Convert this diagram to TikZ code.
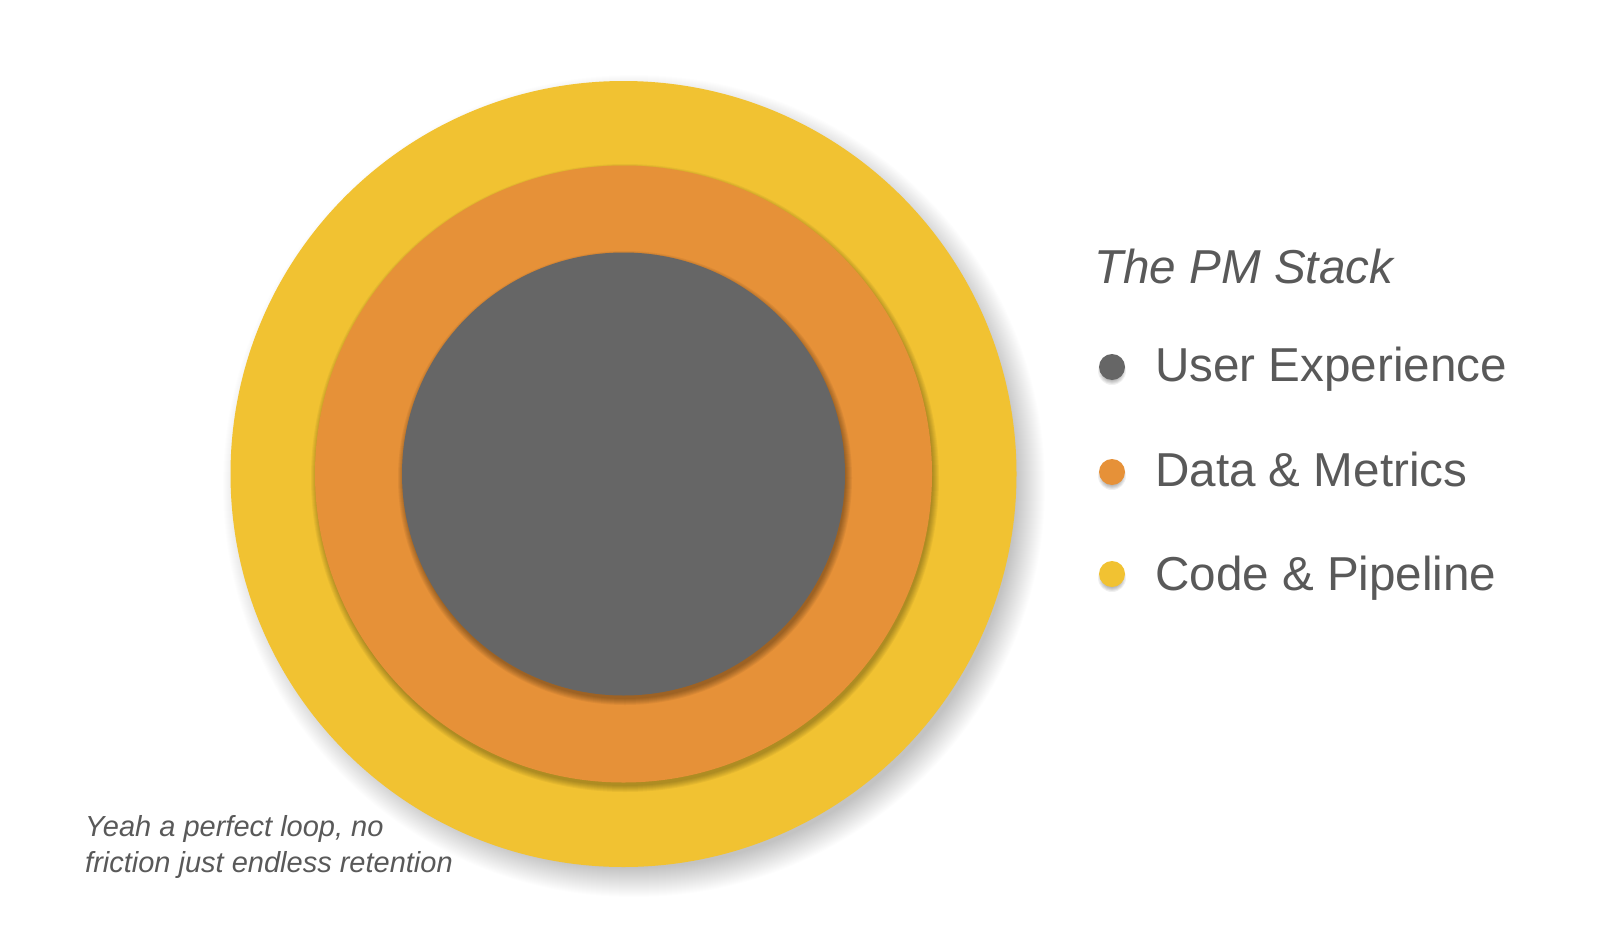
\documentclass[tikz,border=0pt]{standalone}
\usepackage{fontspec}
\setmainfont{Liberation Sans}
\definecolor{cyel}{HTML}{F1C232}
\definecolor{corg}{HTML}{E69138}
\definecolor{cgry}{HTML}{666666}
\definecolor{ctxt}{HTML}{595959}
\begin{document}
\begin{tikzpicture}[x=1pt,y=-1pt,
  disc/.style={circle, inner sep=0pt, outer sep=0pt, minimum size=#1},
  legtext/.style={anchor=base west, inner sep=0pt, text=ctxt, font=\fontsize{47.6}{57}\selectfont},
  dot/.style={circle, inner sep=0pt, outer sep=0pt, minimum size=26pt}]
\fill[white] (0,0) rectangle (1616,926);
\useasboundingbox (0,0) rectangle (1616,926);
% outer shadow
\foreach \i in {0,...,29}
  \fill[black, opacity=0.008] (634,486) circle[radius={(411-\i)*1pt}];
\node[disc=786pt, fill=cyel] (outer) at (623.5,474) {};
% middle shadow
\foreach \i in {1,...,7}
  \fill[black, opacity=0.045] (625,478) circle[radius={(315-\i)*1pt}];
\node[disc=617pt, fill=corg] (middle) at (623.5,474) {};
% inner shadow
\foreach \i in {1,...,7}
  \fill[black, opacity=0.05] (625,478) circle[radius={(228-\i)*1pt}];
\node[disc=443pt, fill=cgry] (inner) at (623.5,474) {};
% legend
\node[anchor=base west, inner sep=0pt, text=ctxt, font=\fontsize{47.6}{57}\selectfont\itshape] (title) at (1094,283) {The PM Stack};
\foreach \y in {367,472,574}{
  \foreach \i in {1,...,5}
    \fill[black, opacity=0.06] (1112,\y+4) circle[radius={(15-\i)*1pt}];
}
\node[dot, fill=cgry] (d1) at (1112,367) {};
\node[dot, fill=corg] (d2) at (1112,472) {};
\node[dot, fill=cyel] (d3) at (1112,574) {};
\node[legtext] (l1) at (1155,381) {User Experience};
\node[legtext] (l2) at (1155,486) {Data \& Metrics};
\node[legtext] (l3) at (1155,590) {Code \& Pipeline};
% caption (base anchor = last line)
\node[anchor=base west, inner sep=0pt, text=ctxt, align=left, font=\fontsize{29}{35.5}\selectfont\itshape] (cap) at (85,872) {Yeah a perfect loop, no\\friction just endless retention};
\end{tikzpicture}
\end{document}
